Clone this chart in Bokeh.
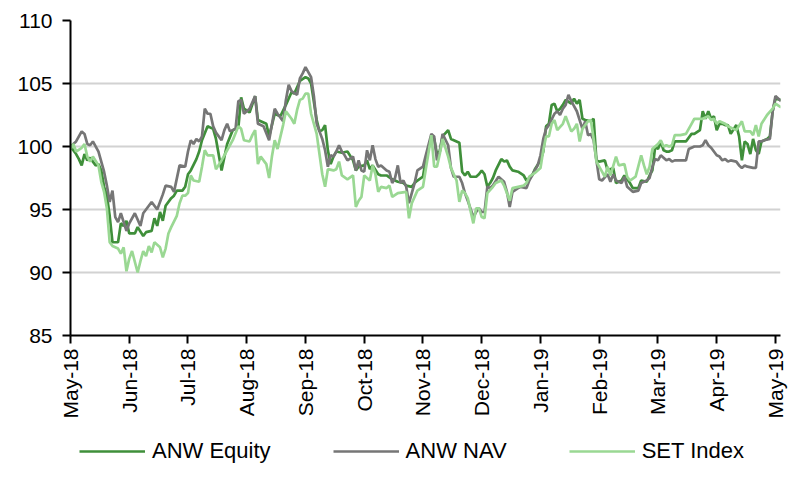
import math
from bokeh.plotting import figure
from bokeh.layouts import column
from bokeh.models import Legend, LegendItem, FixedTicker, Range1d
from bokeh.embed import file_html
from bokeh.resources import INLINE

# ---- data (x = trading-day index from start of May 2018) ----
month_labels = ["May-18", "Jun-18", "Jul-18", "Aug-18", "Sep-18", "Oct-18", "Nov-18",
                "Dec-18", "Jan-19", "Feb-19", "Mar-19", "Apr-19", "May-19"]
days_per_month = 21

equity_day = [0, 2, 3, 4, 5, 6, 7, 9, 10, 11, 12, 13, 14, 15, 17, 18, 19, 20, 21, 23, 24, 26, 27, 29, 30,
              31, 32, 33, 34, 36, 37, 38, 40, 41, 42, 43, 45, 46, 47, 49, 51, 52, 54, 56, 58, 60, 61, 62,
              64, 66, 67, 68, 70, 71, 73, 75, 77, 79, 80, 82, 84, 85, 86, 88, 89, 90, 91, 92, 93, 94, 95,
              97, 99, 101, 102, 103, 105, 106, 107, 108, 110, 111, 113, 115, 117, 119, 120, 122, 123, 124,
              126, 127, 129, 130, 131, 132, 133, 135, 136, 138, 139, 140, 141, 142, 143, 145, 146, 147,
              148, 149, 150, 151, 152, 154, 155, 156, 157, 158, 160, 162, 163, 165, 166, 168, 169, 170,
              171, 172, 173, 174, 175, 176, 177, 179, 180, 181, 182, 183, 184, 186, 187, 188, 189, 191,
              192, 193, 194, 195, 197, 198, 200, 201, 203, 204, 206, 207, 208, 209, 210, 211, 212, 213,
              214, 215, 216, 218, 220, 222, 223, 225, 226, 227, 228, 229, 230, 231, 232, 233, 234, 235,
              236, 238, 239, 240, 241, 242, 243, 244, 245, 246, 247, 248, 249, 250, 251, 252, 254]
equity_val = [100.0, 99.4, 99.0, 98.5, 99.4, 98.9, 99.1, 98.5, 98.6, 98.1, 96.8, 96.1, 94.5, 92.4, 92.4,
              93.9, 93.7, 94.1, 93.1, 93.1, 93.6, 92.9, 93.2, 93.3, 94.3, 93.7, 94.8, 94.1, 95.3, 95.9,
              96.1, 96.5, 96.5, 96.8, 97.8, 98.1, 99.0, 99.6, 100.5, 101.6, 101.4, 100.6, 98.1, 100.2,
              101.3, 101.5, 103.9, 103.0, 102.7, 104.0, 102.1, 102.0, 101.8, 100.8, 102.6, 102.4, 103.3,
              104.3, 104.2, 105.2, 105.5, 105.4, 105.0, 102.1, 101.2, 101.3, 101.7, 99.7, 98.6, 99.2,
              99.6, 99.5, 99.6, 98.9, 98.1, 98.4, 98.5, 98.9, 98.2, 98.5, 97.8, 97.7, 97.7, 97.4, 97.2,
              97.1, 96.9, 96.8, 97.1, 97.3, 97.6, 99.0, 100.8, 100.6, 99.4, 99.6, 100.8, 101.3, 100.6,
              100.4, 100.3, 98.0, 97.7, 98.0, 97.6, 97.6, 97.8, 98.1, 97.8, 96.8, 97.1, 97.5, 98.1, 99.0,
              98.8, 98.9, 98.4, 98.1, 98.0, 97.7, 97.3, 97.7, 98.2, 98.9, 99.6, 101.6, 101.8, 103.3,
              103.4, 102.8, 103.0, 103.3, 103.7, 103.4, 103.8, 103.4, 103.7, 102.2, 102.1, 102.0, 102.2,
              98.9, 98.8, 98.9, 98.1, 98.2, 98.3, 97.1, 97.3, 97.7, 97.1, 96.7, 96.7, 97.3, 97.2, 97.7,
              98.1, 100.0, 99.8, 100.4, 99.7, 99.6, 99.6, 99.7, 100.4, 100.4, 100.4, 101.0, 101.0, 101.3,
              102.8, 102.2, 102.8, 102.2, 102.4, 101.3, 101.8, 101.8, 101.7, 101.7, 101.0, 101.7, 100.8,
              98.9, 100.4, 100.2, 99.4, 100.6, 99.7, 99.4, 100.4, 100.5, 100.6, 100.8, 102.8, 103.8, 103.7]

nav_day = [0, 2, 4, 5, 6, 7, 8, 10, 12, 13, 14, 15, 16, 17, 18, 20, 21, 23, 25, 26, 28, 29, 31, 33, 34,
           36, 37, 39, 41, 42, 43, 44, 45, 46, 47, 48, 49, 50, 51, 52, 54, 55, 56, 57, 59, 60, 61, 62, 64,
           66, 67, 69, 71, 73, 74, 76, 77, 78, 79, 81, 82, 83, 84, 86, 87, 88, 89, 90, 91, 92, 93, 94, 95,
           96, 97, 98, 99, 101, 102, 103, 104, 105, 106, 107, 108, 109, 110, 111, 113, 114, 115, 116, 117,
           118, 119, 120, 121, 122, 123, 124, 126, 127, 129, 130, 131, 132, 133, 135, 136, 137, 139, 140,
           141, 142, 144, 145, 146, 147, 148, 149, 150, 151, 153, 155, 156, 157, 158, 160, 161, 163, 164,
           165, 167, 168, 169, 170, 171, 173, 174, 175, 176, 177, 178, 179, 180, 181, 182, 183, 184, 185,
           186, 187, 188, 189, 190, 192, 193, 194, 195, 197, 198, 199, 200, 201, 203, 204, 206, 207, 208,
           209, 210, 211, 213, 214, 215, 216, 218, 220, 221, 223, 225, 226, 227, 228, 229, 231, 232, 233,
           234, 235, 236, 238, 239, 240, 241, 242, 244, 245, 246, 247, 248, 250, 251, 252, 254]
nav_val = [100.0, 100.4, 101.2, 101.0, 100.2, 100.1, 100.4, 99.6, 98.0, 96.9, 95.6, 96.5, 94.4, 94.0, 94.7,
           93.3, 93.9, 94.7, 93.7, 94.7, 95.3, 95.6, 95.0, 96.2, 96.9, 96.8, 96.4, 98.5, 98.4, 99.6, 100.5,
           100.2, 100.6, 100.4, 100.8, 103.0, 102.6, 102.6, 101.6, 101.1, 100.5, 101.3, 101.8, 101.2, 101.4,
           103.6, 103.7, 102.6, 103.0, 104.0, 101.8, 101.6, 100.5, 103.0, 102.6, 102.0, 103.7, 104.9, 104.4,
           104.1, 105.4, 105.8, 106.3, 105.5, 104.0, 101.8, 101.2, 100.6, 99.7, 98.4, 99.3, 99.2, 99.6,
           100.1, 99.6, 99.3, 98.9, 99.2, 98.1, 98.9, 98.1, 98.0, 99.7, 98.9, 100.1, 99.0, 98.4, 98.5, 98.1,
           98.0, 97.1, 97.5, 98.5, 97.1, 97.3, 96.8, 95.5, 96.3, 97.1, 98.1, 98.4, 99.3, 101.0, 100.8, 98.9,
           99.6, 101.0, 100.1, 98.3, 97.6, 97.6, 97.1, 96.3, 95.7, 94.4, 94.8, 95.1, 94.8, 94.8, 96.8, 96.7,
           96.9, 97.6, 97.2, 96.4, 95.2, 96.4, 96.7, 96.8, 96.7, 97.3, 97.7, 98.5, 99.3, 100.6, 101.4, 101.7,
           102.6, 102.8, 102.5, 103.0, 103.3, 104.1, 103.6, 103.2, 102.8, 102.1, 101.4, 102.0, 100.9, 101.0,
           100.5, 98.9, 97.4, 97.3, 97.8, 97.2, 97.8, 97.3, 97.1, 97.6, 96.8, 96.6, 96.4, 96.5, 97.1, 97.3,
           97.5, 98.4, 99.0, 98.9, 99.3, 98.9, 99.0, 98.8, 98.9, 98.9, 98.9, 99.8, 100.0, 100.0, 100.1,
           100.5, 100.1, 99.9, 99.3, 99.2, 98.9, 99.0, 98.8, 98.9, 98.8, 98.5, 98.3, 98.5, 98.4, 98.3, 98.3,
           100.4, 100.4, 100.5, 100.6, 102.8, 104.0, 103.6]

set_day = [0, 1, 2, 4, 5, 6, 7, 8, 10, 11, 12, 13, 14, 15, 17, 18, 19, 20, 21, 22, 24, 25, 26, 27, 28, 29,
           30, 32, 33, 34, 35, 36, 38, 39, 40, 41, 42, 43, 44, 46, 47, 48, 49, 51, 52, 54, 56, 58, 60, 61,
           62, 64, 65, 66, 67, 68, 70, 71, 72, 73, 74, 76, 77, 79, 80, 81, 82, 83, 84, 85, 86, 88, 89, 90,
           91, 92, 94, 95, 96, 97, 99, 101, 102, 103, 104, 105, 107, 108, 109, 110, 111, 113, 114, 115, 117,
           120, 121, 122, 124, 126, 127, 129, 130, 131, 132, 133, 135, 136, 138, 139, 140, 141, 142, 144,
           145, 146, 147, 148, 149, 151, 152, 154, 155, 157, 158, 160, 162, 163, 164, 166, 168, 169, 170,
           171, 172, 173, 174, 176, 177, 179, 180, 181, 182, 183, 185, 186, 187, 188, 190, 191, 192, 193,
           195, 196, 198, 199, 200, 202, 204, 205, 206, 207, 208, 210, 211, 212, 213, 214, 215, 216, 218,
           220, 222, 223, 224, 225, 226, 228, 229, 230, 231, 232, 234, 235, 237, 238, 240, 241, 243, 244,
           245, 246, 247, 249, 251, 252, 254]
set_val = [99.8, 100.2, 99.6, 99.9, 100.2, 99.2, 98.8, 99.2, 98.5, 97.2, 96.4, 95.1, 92.4, 92.1, 91.9, 91.5,
           92.0, 90.1, 91.1, 91.7, 90.0, 90.9, 91.7, 91.3, 92.1, 91.6, 92.4, 92.0, 91.2, 91.9, 93.1, 93.6,
           94.5, 95.5, 96.1, 96.1, 96.3, 97.7, 97.3, 97.2, 98.4, 99.7, 99.3, 99.3, 98.2, 98.9, 99.7, 100.5,
           101.6, 101.4, 100.5, 100.4, 100.9, 101.3, 98.6, 99.2, 98.6, 97.5, 99.2, 100.5, 99.8, 101.7, 102.8,
           102.2, 101.8, 102.9, 103.7, 103.8, 104.2, 104.2, 102.6, 101.0, 99.4, 97.8, 96.8, 98.2, 98.1, 98.2,
           98.8, 97.7, 97.4, 97.7, 95.2, 95.7, 96.0, 97.7, 97.3, 98.5, 97.8, 96.4, 96.8, 96.7, 96.9, 96.0,
           96.3, 96.4, 94.3, 95.5, 96.5, 96.8, 98.2, 100.9, 98.4, 98.4, 99.4, 100.6, 99.2, 98.3, 97.3, 95.6,
           96.5, 96.3, 95.9, 93.9, 95.1, 95.1, 94.4, 94.3, 96.3, 96.8, 97.1, 97.3, 96.9, 95.7, 96.7, 96.8,
           96.9, 97.1, 97.6, 97.9, 98.3, 99.7, 100.8, 100.8, 101.8, 102.1, 101.3, 101.8, 102.4, 101.2, 101.4,
           101.8, 100.4, 101.4, 102.0, 102.1, 100.6, 98.8, 98.0, 97.6, 98.4, 97.7, 99.2, 98.5, 98.6, 97.6,
           97.3, 97.6, 99.3, 98.5, 97.8, 98.4, 99.8, 100.2, 100.5, 100.0, 100.1, 100.0, 100.1, 100.9, 100.9,
           101.0, 101.8, 102.2, 102.2, 102.2, 102.2, 102.4, 102.1, 102.2, 101.8, 102.0, 101.8, 101.6, 101.4,
           101.3, 102.0, 101.2, 101.2, 100.9, 101.7, 100.8, 101.8, 102.5, 103.0, 103.4, 103.1]

series_names = ["ANW Equity", "ANW NAV", "SET Index"]
series_colors = ["#3f8f3a", "#767676", "#9ad893"]
y_ticks = [85, 90, 95, 100, 105, 110]

FONT = "Liberation Sans"
FS = "21px"
LW = 2.7

p = figure(frame_width=710, frame_height=315, output_backend="svg", toolbar_location=None,
           x_range=Range1d(0, 253.8), y_range=Range1d(85, 110),
           min_border_left=70, min_border_top=20, min_border_right=12, min_border_bottom=85,
           background_fill_color="white", border_fill_color="white")
p.outline_line_color = None

series = [(equity_day, equity_val), (nav_day, nav_val), (set_day, set_val)]
for (xs, ys), col in zip(series, series_colors):
    p.line(xs, ys, line_color=col, line_width=LW)

# axes
p.xaxis.ticker = FixedTicker(ticks=[i * days_per_month for i in range(len(month_labels))])
p.xaxis.major_label_overrides = {i * days_per_month: lab for i, lab in enumerate(month_labels)}
p.xaxis.major_label_orientation = math.pi / 2
p.yaxis.ticker = FixedTicker(ticks=y_ticks)
for ax in (p.xaxis[0], p.yaxis[0]):
    ax.axis_line_color = "black"
    ax.axis_line_width = 2
    ax.major_tick_line_color = "black"
    ax.major_tick_line_width = 2
    ax.major_tick_in = 0
    ax.major_tick_out = 8
    ax.minor_tick_line_color = None
    ax.major_label_text_font = FONT
    ax.major_label_text_font_size = FS
    ax.major_label_text_color = "black"
p.xaxis.major_label_standoff = 5
p.yaxis.major_label_standoff = 10

p.xgrid.visible = False
p.ygrid.grid_line_color = "#d2d2d2"
p.ygrid.grid_line_width = 2

# legend strip below the chart (sample lines lie outside the strip's visible range)
lg = figure(width=792, height=60, output_backend="svg", toolbar_location=None,
            x_axis_type=None, y_axis_type=None, min_border=0,
            x_range=Range1d(0, 1), y_range=Range1d(0, 1),
            background_fill_color="white", border_fill_color="white")
lg.outline_line_color = None
lg.grid.visible = False
items = []
for name, col in zip(series_names, series_colors):
    r = lg.line([-5, -4], [-5, -4], line_color=col, line_width=LW)
    items.append(LegendItem(label=name, renderers=[r]))
legend = Legend(items=items, orientation="horizontal", location=(9, 15),
                margin=0, padding=9, spacing=62, glyph_width=66, glyph_height=30,
                label_standoff=7, label_text_font=FONT, label_text_font_size="22px",
                label_text_color="black",
                border_line_color=None, background_fill_color=None)
lg.add_layout(legend, "center")

layout = column(p, lg, spacing=0)
open("out.html", "w").write(file_html(layout, INLINE))
